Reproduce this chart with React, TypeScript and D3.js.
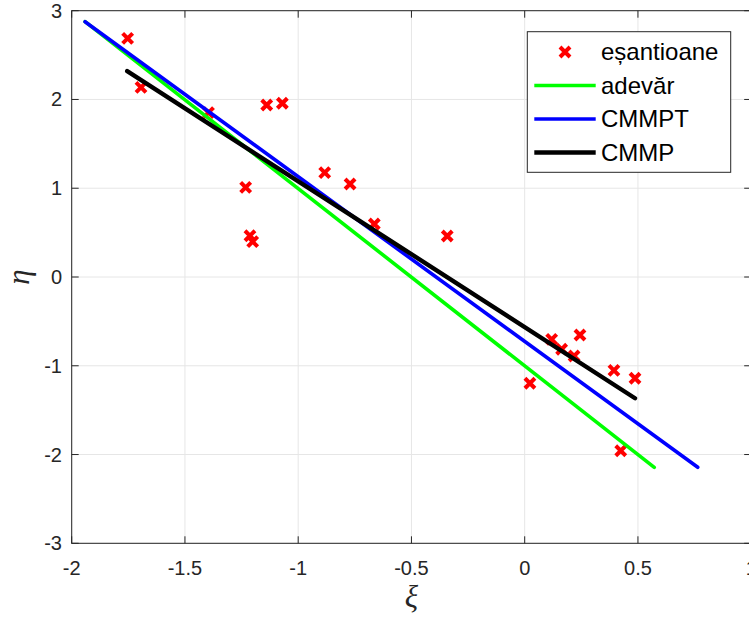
import React from "react";
import * as d3 from "d3";

const sampleXi = [-1.753, -1.694, -1.396, -1.139, -1.07, -1.232, -1.213, -1.201, -0.883, -0.771, -0.664, -0.342, 0.023, 0.119, 0.163, 0.218, 0.244, 0.394, 0.487, 0.424];
const sampleEta = [2.689, 2.137, 1.851, 1.938, 1.957, 1.01, 0.465, 0.398, 1.175, 1.048, 0.597, 0.462, -1.197, -0.702, -0.814, -0.89, -0.653, -1.051, -1.141, -1.957];

const trueXi = [-1.941, 0.572];
const trueEta = [2.876, -2.144];
const tlsXi = [-1.941, 0.764];
const tlsEta = [2.876, -2.144];
const lsXi = [-1.755, 0.487];
const lsEta = [2.32, -1.366];

const xTicks = [-2, -1.5, -1, -0.5, 0, 0.5, 1];
const yTicks = [-3, -2, -1, 0, 1, 2, 3];
const legendLabels = ["eșantioane", "adevăr", "CMMPT", "CMMP"];
const lineColors = ["#00ff00", "#0000ff", "#000000"];
const lineWidths = [3.6, 3.6, 4.4];

const W = 749, H = 618;
const L = 71.7, R = 751.2, T = 10.7, B = 543.3;
const AX = "#262626";
const FONT = "'Liberation Sans', Arial, sans-serif";
const SERIF = "'Liberation Serif', 'Times New Roman', serif";

export default function App() {
  const x = d3.scaleLinear().domain([-2, 1]).range([L, R]);
  const y = d3.scaleLinear().domain([-3, 3]).range([B, T]);
  const line = d3.line<[number, number]>().x(d => x(d[0])).y(d => y(d[1]));
  const series: [number[], number[]][] = [[trueXi, trueEta], [tlsXi, tlsEta], [lsXi, lsEta]];
  const cross = (cx: number, cy: number, s: number) => `M${cx - s},${cy - s}L${cx + s},${cy + s}M${cx - s},${cy + s}L${cx + s},${cy - s}`;
  const lgX = 527.3, lgY = 31.7, lgW = 203.4, lgH = 140.6;
  const rowY = [52, 85.5, 119, 152.5];
  return (
    <svg width={W} height={H} style={{ position: "absolute", left: 0, top: 0, background: "#fff" }} fontFamily={FONT}>
      <rect x={0} y={0} width={W} height={H} fill="#fff" />
      {xTicks.map(t => (
        <line key={"gx" + t} x1={x(t)} x2={x(t)} y1={T} y2={B} stroke="#e6e6e6" strokeWidth={1} />
      ))}
      {yTicks.map(t => (
        <line key={"gy" + t} x1={L} x2={R} y1={y(t)} y2={y(t)} stroke="#e6e6e6" strokeWidth={1} />
      ))}
      <rect x={L} y={T} width={R - L} height={B - T} fill="none" stroke={AX} strokeWidth={1} />
      {xTicks.map(t => (
        <g key={"tx" + t}>
          <line x1={x(t)} x2={x(t)} y1={B} y2={B - 7} stroke={AX} />
          <line x1={x(t)} x2={x(t)} y1={T} y2={T + 7} stroke={AX} />
          <text x={x(t)} y={574.5} textAnchor="middle" fontSize={20} fill={AX}>{String(t)}</text>
        </g>
      ))}
      {yTicks.map(t => (
        <g key={"ty" + t}>
          <line x1={L} x2={L + 7} y1={y(t)} y2={y(t)} stroke={AX} />
          <line x1={R} x2={R - 7} y1={y(t)} y2={y(t)} stroke={AX} />
          <text x={62} y={y(t) + 7} textAnchor="end" fontSize={20} fill={AX}>{String(t)}</text>
        </g>
      ))}
      <text x={(L + R) / 2} y={607} textAnchor="middle" fontSize={31} fontStyle="italic" fontFamily={SERIF} fill={AX}>ξ</text>
      <text transform={`translate(29,${(T + B) / 2}) rotate(-90)`} textAnchor="middle" fontSize={31} fontStyle="italic" fontFamily={SERIF} fill={AX}>η</text>
      {sampleXi.map((v, i) => (
        <path key={"p" + i} d={cross(x(v), y(sampleEta[i]), 5)} stroke="#ff0000" strokeWidth={4} fill="none" />
      ))}
      {series.map((s, i) => (
        <path key={"l" + i} d={line(s[0].map((v, j) => [v, s[1][j]] as [number, number])) || ""} stroke={lineColors[i]} strokeWidth={lineWidths[i]} fill="none" strokeLinecap="round" />
      ))}
      <rect x={lgX} y={lgY} width={lgW} height={lgH} fill="#fff" stroke={AX} strokeWidth={1} />
      <path d={cross(565, rowY[0], 5)} stroke="#ff0000" strokeWidth={4} fill="none" />
      {lineColors.map((c, i) => (
        <line key={"lg" + i} x1={534.3} x2={595.7} y1={rowY[i + 1]} y2={rowY[i + 1]} stroke={c} strokeWidth={lineWidths[i]} />
      ))}
      {legendLabels.map((lab, i) => (
        <text key={"lt" + i} x={601} y={rowY[i] + 8} fontSize={24} fill="#000">{lab}</text>
      ))}
    </svg>
  );
}
